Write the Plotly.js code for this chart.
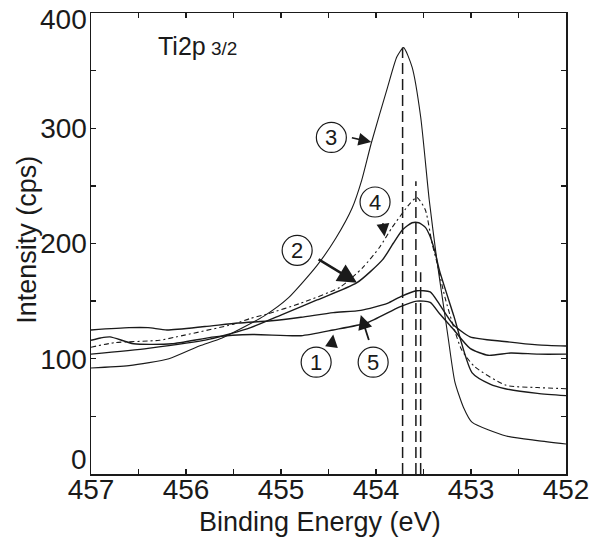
<!DOCTYPE html>
<html>
<head>
<meta charset="utf-8">
<script src="https://cdn.plot.ly/plotly-3.0.1.min.js"></script>
<style>html,body{margin:0;padding:0;background:#fff;}#chart{width:594px;height:541px;}</style>
</head>
<body>
<div id="chart"></div>
<script>
// Curve 1
const c1x = [457.0, 456.9, 456.8, 456.55, 456.15, 455.7, 455.3, 454.79, 454.45, 454.1, 453.75, 453.57, 453.43, 453.33, 453.19, 453.01, 452.82, 452.58, 452.29, 452.0];
const c1y = [116, 118, 119, 113, 113, 119, 121, 120, 125, 131, 145, 150, 149, 139, 126, 109, 103, 105, 104, 104];
// Curve 2
const c2x = [457.0, 456.4, 455.75, 455.32, 454.97, 454.62, 454.2, 453.93, 453.82, 453.72, 453.62, 453.55, 453.48, 453.43, 453.38, 453.33, 453.18, 452.99, 452.8, 452.64, 452.3, 452.0];
const c2y = [104, 109, 117, 127, 139, 151, 166, 186, 200, 212, 218, 218, 214, 206, 193, 176, 137, 88, 78, 74, 70, 68];
// Curve 3
const c3x = [457.0, 456.6, 456.18, 455.86, 455.62, 455.18, 454.92, 454.62, 454.42, 454.25, 454.15, 454.05, 453.88, 453.78, 453.71, 453.62, 453.53, 453.44, 453.36, 453.30, 453.24, 453.17, 453.08, 452.99, 452.63, 452.3, 452.0];
const c3y = [92, 94, 100, 111, 118, 137, 153, 181, 205, 231, 255, 287, 335, 362, 370, 353, 310, 238, 186, 152, 118, 80, 58, 45, 33, 29, 26];
// Curve 4 (dash-dot)
const c4x = [457.0, 456.75, 456.28, 456.1, 455.5, 455.32, 455.14, 454.8, 454.38, 454.14, 453.96, 453.83, 453.65, 453.57, 453.48, 453.41, 453.36, 453.27, 453.1, 452.96, 452.63, 452.3, 452.0];
const c4y = [110, 114, 116, 119, 130, 135, 139, 148, 162, 179, 197, 214, 234, 240, 229, 200, 184, 152, 108, 93, 77, 75, 74];
// Curve 5
const c5x = [457.0, 456.6, 456.4, 456.2, 455.8, 455.45, 455.1, 454.79, 454.45, 454.16, 453.88, 453.74, 453.57, 453.43, 453.33, 453.19, 453.01, 452.65, 452.3, 452.0];
const c5y = [125, 127, 127, 125, 128, 131, 133, 136, 140, 142, 148, 154, 159, 158, 147, 130, 119, 115, 112, 111];
// Peak-position drop lines
const dropX = [453.72, 453.58, 453.53];
const dropTop = [370, 254, 175];
// Circled labels: number, label position, arrow tail, arrow tip
const labelNames = ['1', '2', '3', '4', '5'];
const labelX = [454.63, 454.83, 454.47, 454.01, 454.03];
const labelY = [97, 194, 292, 236, 97];
const tailX = [454.47, 454.62, 454.27, 453.93, 454.07];
const tailY = [109, 187, 292, 219, 115];
const tipX = [454.45, 454.2, 454.05, 453.91, 454.16];
const tipY = [121, 166, 288, 206, 138];
const arrowW = [1.6, 2.4, 1.6, 1.6, 1.8];
const xTicks = [457, 456, 455, 454, 453, 452];
const yTicks = [0, 100, 200, 300, 400];
// edge y labels sit a little inside the frame in the original
const yEdgeShift = {0: 15, 400: -6};

const ink = '#1a1a1a';
const traces = [];
function curve(x, y, dash, w) {
  traces.push({x: x, y: y, type: 'scatter', mode: 'lines',
    line: {color: ink, width: w, dash: dash, shape: 'spline', smoothing: 0.6},
    hoverinfo: 'skip', showlegend: false});
}
curve(c1x, c1y, 'solid', 1.4);
curve(c2x, c2y, 'solid', 1.4);
curve(c3x, c3y, 'solid', 1.1);
curve(c4x, c4y, '5px,3px,2px,3px', 1.1);
curve(c5x, c5y, 'solid', 1.4);
for (let i = 0; i < dropX.length; i++) {
  traces.push({x: [dropX[i], dropX[i]], y: [0, dropTop[i]], type: 'scatter', mode: 'lines',
    line: {color: ink, width: 1.5, dash: '11px,5px'}, hoverinfo: 'skip', showlegend: false});
}

const font = 'Liberation Sans, Arial, sans-serif';
const tickFont = {family: 'Liberation Sans Narrow, Arial Narrow, Liberation Sans, sans-serif', size: 28, color: ink};
const shapes = [];
const annotations = [];
for (let i = 0; i < labelNames.length; i++) {
  shapes.push({type: 'circle', xref: 'x', yref: 'y', xsizemode: 'pixel', ysizemode: 'pixel',
    xanchor: labelX[i], yanchor: labelY[i], x0: -15, x1: 15, y0: -15, y1: 15,
    line: {color: ink, width: 1.2}});
  annotations.push({x: labelX[i], y: labelY[i], xref: 'x', yref: 'y', text: labelNames[i],
    showarrow: false, font: {family: font, size: 22, color: ink}});
  annotations.push({x: tipX[i], y: tipY[i], ax: tailX[i], ay: tailY[i], xref: 'x', yref: 'y',
    axref: 'x', ayref: 'y', text: '', showarrow: true, arrowhead: 2, arrowsize: 1.6,
    arrowwidth: arrowW[i], arrowcolor: ink, standoff: 0, startstandoff: 0});
}
annotations.push({xref: 'paper', yref: 'paper', x: 0.136, y: 0.928, xanchor: 'left', yanchor: 'middle',
  text: 'Ti2p<span style="font-size:19px"> 3/2</span>', showarrow: false,
  font: {family: font, size: 25, color: ink}});
// y tick labels at the frame edges, drawn at their axis values
for (const v of [0, 400]) {
  annotations.push({xref: 'paper', yref: 'y', x: 0, y: v, xanchor: 'right', yanchor: 'middle',
    xshift: -2, yshift: yEdgeShift[v], text: String(v), showarrow: false, font: tickFont});
}
// axis titles
annotations.push({xref: 'paper', yref: 'paper', x: 0.482, y: -0.104, xanchor: 'center', yanchor: 'middle',
  text: 'Binding Energy (eV)', showarrow: false, font: {family: font, size: 27, color: ink}});
annotations.push({xref: 'paper', yref: 'paper', x: -0.135, y: 0.508, xanchor: 'center', yanchor: 'middle',
  textangle: -90, text: 'Intensity (cps)', showarrow: false, font: {family: font, size: 27, color: ink}});

const layout = {
  width: 594, height: 541,
  margin: {l: 91, r: 28, t: 13, b: 67},
  paper_bgcolor: '#fff', plot_bgcolor: '#fff',
  showlegend: false,
  xaxis: {range: [457, 452], tickvals: xTicks, ticktext: xTicks.map(String),
    ticks: 'inside', ticklen: 5, tickwidth: 1.3, tickcolor: ink,
    minor: {dtick: 0.5, ticks: 'inside', ticklen: 5, tickwidth: 1.3, tickcolor: ink},
    showline: true, linecolor: ink, linewidth: 1.5, mirror: 'allticks',
    showgrid: false, zeroline: false, tickfont: tickFont, ticklabelstandoff: -10,
    ticklabeloverflow: 'allow'},
  yaxis: {range: [0, 400], tickvals: yTicks, ticktext: yTicks.map(v => (v === 0 || v === 400) ? '' : String(v)),
    ticks: 'inside', ticklen: 5, tickwidth: 1.3, tickcolor: ink,
    minor: {dtick: 50, ticks: 'inside', ticklen: 5, tickwidth: 1.3, tickcolor: ink},
    showline: true, linecolor: ink, linewidth: 1.5, mirror: 'allticks',
    showgrid: false, zeroline: false, tickfont: tickFont, ticklabelstandoff: -3,
    ticklabeloverflow: 'allow'},
  shapes: shapes,
  annotations: annotations
};
Plotly.newPlot('chart', traces, layout, {staticPlot: true, displayModeBar: false});
</script>
</body>
</html>
